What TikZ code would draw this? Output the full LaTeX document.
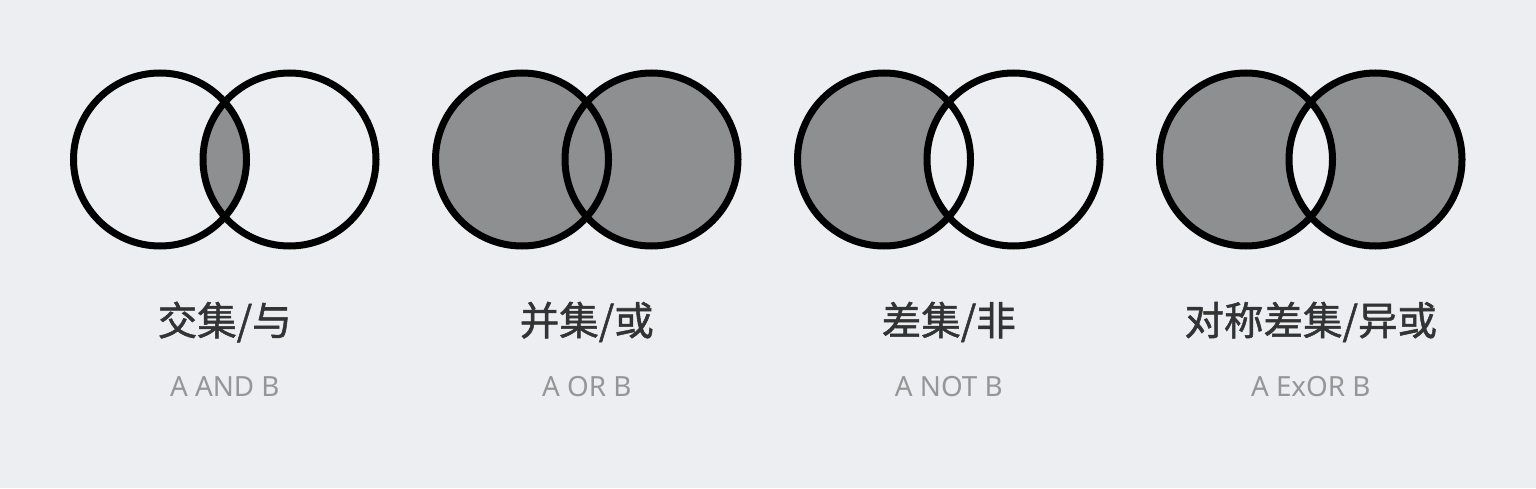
\documentclass[tikz,border=0pt]{standalone}
\usepackage{fontspec}
\newfontfamily\cjk[FakeBold=1.3]{Noto Sans CJK SC}
\newfontfamily\latn{Noto Sans}
\definecolor{bgc}{RGB}{237,238,242}
\definecolor{fillc}{RGB}{142,143,145}
\definecolor{titlec}{RGB}{51,51,51}
\definecolor{subc}{RGB}{150,150,150}
\begin{document}
\begin{tikzpicture}[x=1pt,y=1pt,
  ring/.style={draw=black,line width=7pt},
  titletext/.style={font=\cjk\fontsize{39.5}{42}\selectfont,text=titlec,inner sep=0pt,anchor=center},
  subtext/.style={font=\latn\fontsize{27.8}{30}\selectfont,text=subc,inner sep=0pt,anchor=center}]
\def\R{86.5}
\def\D{64.75}
\fill[bgc] (0,0) rectangle (1536,488);
\useasboundingbox (0,0) rectangle (1536,488);
% centers
\foreach \i/\cx in {1/224.75,2/586.75,3/948.75,4/1310.75}{
  \coordinate (a\i) at (\cx-\D,328.5);
  \coordinate (b\i) at (\cx+\D,328.5);
  \coordinate (t\i) at (\cx,166);
  \coordinate (s\i) at (\cx,101);
}
% 1: intersection
\begin{scope}
  \clip (a1) circle (\R);
  \fill[fillc] (b1) circle (\R);
\end{scope}
% 2: union
\fill[fillc] (a2) circle (\R) (b2) circle (\R);
% 3: difference
\fill[fillc] (a3) circle (\R);
\fill[bgc] (b3) circle (\R);
% 4: symmetric difference
\fill[fillc,even odd rule] (a4) circle (\R) (b4) circle (\R);
% rings
\foreach \i in {1,2,3,4}{
  \draw[ring] (a\i) circle (\R);
  \draw[ring] (b\i) circle (\R);
}
\node[titletext] (l1) at (t1) {交集/与};
\node[titletext] (l2) at (t2) {并集/或};
\node[titletext] (l3) at (t3) {差集/非};
\node[titletext] (l4) at (t4) {对称差集/异或};
\node[subtext] (e1) at (s1) {A AND B};
\node[subtext] (e2) at (s2) {A OR B};
\node[subtext] (e3) at (s3) {A NOT B};
\node[subtext] (e4) at (s4) {A ExOR B};
\end{tikzpicture}
\end{document}
